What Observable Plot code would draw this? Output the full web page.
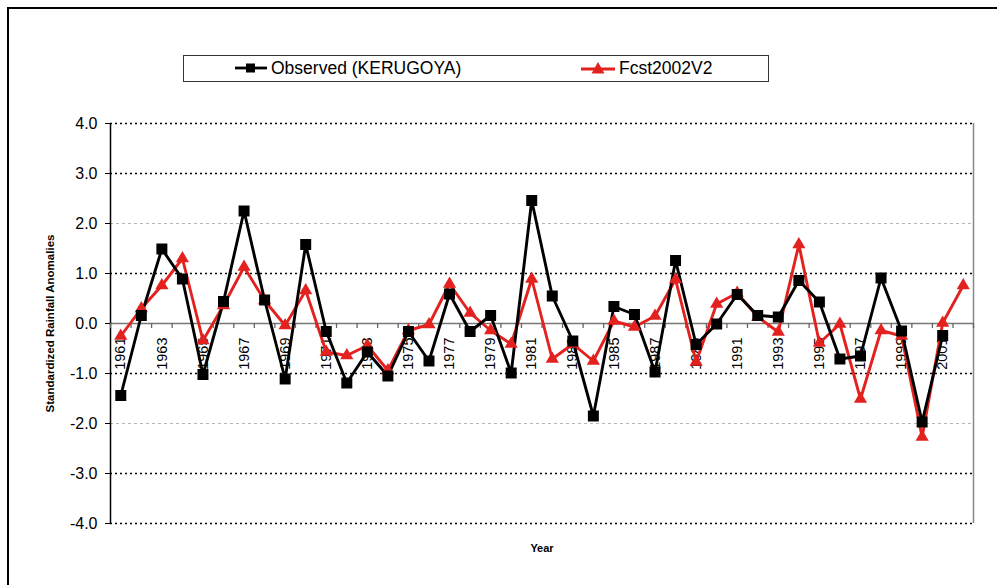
<!DOCTYPE html>
<html>
<head>
<meta charset="utf-8">
<script src="https://cdn.jsdelivr.net/npm/d3@7"></script>
<script src="https://cdn.jsdelivr.net/npm/@observablehq/plot@0.6"></script>
<style>
  html, body { margin: 0; padding: 0; background: #fff; overflow: hidden; }
  #wrap { position: relative; width: 997px; height: 585px; font-family: "Liberation Sans", Arial, sans-serif; }
  #frame { position: absolute; left: 7px; top: 7px; width: 1100px; height: 700px; border: 2px solid #000; box-sizing: border-box; }
  #chart { position: absolute; left: 0; top: 0; }
  #legend { position: absolute; left: 183px; top: 55px; width: 586px; height: 27px; border: 1.5px solid #333; box-sizing: border-box; background: #fff; }
  .item { position: absolute; top: 0; height: 24px; display: flex; align-items: center; font-size: 17.5px; color: #000; white-space: nowrap; }
  .item svg { margin-right: 3px; }
</style>
</head>
<body>
<div id="wrap">
  <div id="frame"></div>
  <div id="chart"></div>
  <div id="legend">
    <div class="item" style="left:50px">
      <svg width="34" height="14"><line x1="1" y1="7" x2="33" y2="7" stroke="#000" stroke-width="2.8"/><rect x="12" y="2.5" width="9" height="9" fill="#000"/></svg>Observed (KERUGOYA)
    </div>
    <div class="item" style="left:396px">
      <svg width="36" height="14"><line x1="1" y1="8" x2="35" y2="8" stroke="#e3211f" stroke-width="2.8"/><polygon points="18,1 24.5,12.5 11.5,12.5" fill="#e3211f"/></svg>Fcst2002V2
    </div>
  </div>
</div>
<script>
const years = [1961,1962,1963,1964,1965,1966,1967,1968,1969,1970,
               1971,1972,1973,1974,1975,1976,1977,1978,1979,1980,
               1981,1982,1983,1984,1985,1986,1987,1988,1989,1990,
               1991,1992,1993,1994,1995,1996,1997,1998,1999,2000,
               2001,2002];
// Observed (KERUGOYA): 1961-2001
const observed = [-1.44,0.16,1.49,0.89,-1.02,0.44,2.25,0.47,-1.11,1.58,
                  -0.16,-1.19,-0.57,-1.05,-0.16,-0.75,0.59,-0.16,0.16,-0.99,
                  2.46,0.55,-0.35,-1.85,0.34,0.18,-0.97,1.26,-0.42,-0.01,
                  0.58,0.16,0.13,0.86,0.43,-0.71,-0.65,0.91,-0.15,-1.97,
                  -0.24];
// Fcst2002V2: 1961-2002
const forecast = [-0.25,0.30,0.76,1.30,-0.34,0.36,1.13,0.46,-0.04,0.66,
                  -0.57,-0.64,-0.44,-0.94,-0.14,-0.02,0.79,0.21,-0.14,-0.41,
                  0.89,-0.71,-0.41,-0.75,0.05,-0.07,0.15,0.88,-0.77,0.39,
                  0.61,0.13,-0.17,1.58,-0.39,-0.01,-1.51,-0.14,-0.25,-2.27,
                  0.01,0.76];
const yTicks = [-4,-3,-2,-1,0,1,2,3,4];
const darkGrid = [4,3,1,-1,-3,-4];
const lightGrid = [2,-2];
const labelYears = years.filter((y, i) => i % 2 === 0);
const firstYear = years[0], lastYear = years[years.length - 1];
const boundaries = [...years.map(y => y - 0.5), lastYear + 0.5];

const obsData = observed.map((v, i) => ({year: years[i], value: v}));
const fcData = forecast.map((v, i) => ({year: years[i], value: v}));
const red = "#e3211f";

const chart = Plot.plot({
  width: 997,
  height: 585,
  marginLeft: 110,
  marginRight: 24,
  marginTop: 123,
  marginBottom: 62,
  style: {fontFamily: "'Liberation Sans', Arial, sans-serif", background: "transparent", overflow: "visible"},
  x: {domain: [firstYear - 0.5, lastYear + 0.5], axis: null},
  y: {domain: [-4, 4], axis: null},
  marks: [
    Plot.ruleY(lightGrid, {stroke: "#b5b5b5", strokeDasharray: "3,3", strokeWidth: 1}),
    Plot.ruleY(darkGrid, {stroke: "#000", strokeDasharray: "2,3", strokeWidth: 1.3}),
    Plot.ruleY([0], {stroke: "#777", strokeWidth: 1.3}),
    Plot.ruleX([lastYear + 0.5], {stroke: "#888", strokeWidth: 1.5}),
    Plot.ruleX([firstYear - 0.5], {stroke: "#000", strokeWidth: 1.5}),
    Plot.ruleX(boundaries, {x: d => d, y1: 0, y2: -0.1, stroke: "#666", strokeWidth: 1.3}),
    Plot.axisY({ticks: yTicks, tickSize: 5, tickPadding: 8, tickFormat: d => d.toFixed(1), fontSize: 16, label: null, anchor: "left"}),
    Plot.text(labelYears, {x: d => d, y: 0, text: d => String(d), rotate: -90, textAnchor: "end", dy: 14, fontSize: 14.5, fill: "#000"}),
    Plot.line(fcData, {x: "year", y: "value", stroke: red, strokeWidth: 2.9}),
    Plot.line(obsData, {x: "year", y: "value", stroke: "#000", strokeWidth: 2.9}),
    Plot.dot(fcData, {x: "year", y: "value", symbol: "triangle", r: 4.9, fill: red}),
    Plot.dot(obsData, {x: "year", y: "value", symbol: "square", r: 6.2, fill: "#000"}),
    Plot.text(["Standardized Rainfall Anomalies"], {frameAnchor: "left", textAnchor: "middle", rotate: -90, dx: -60, fontWeight: "bold", fontSize: 11.5, fill: "#000"}),
    Plot.text(["Year"], {frameAnchor: "bottom", textAnchor: "middle", lineAnchor: "middle", dy: 25, fontWeight: "bold", fontSize: 11, fill: "#000"})
  ]
});
document.getElementById("chart").appendChild(chart);
</script>
</body>
</html>
